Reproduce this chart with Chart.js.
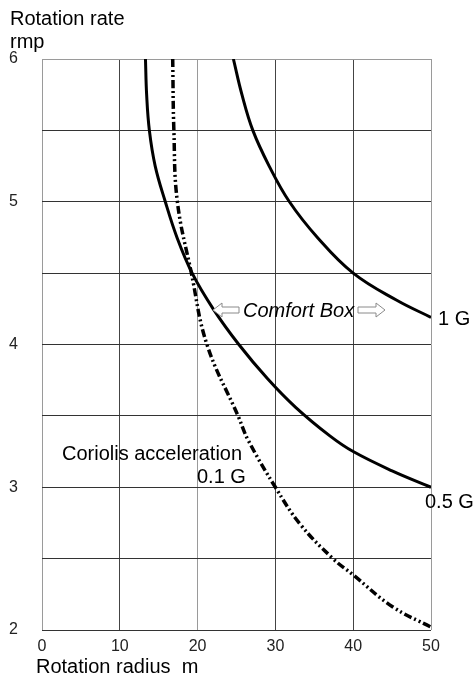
<!DOCTYPE html>
<html>
<head>
<meta charset="utf-8">
<script src="https://cdn.jsdelivr.net/npm/chart.js@4/dist/chart.umd.min.js"></script>
<style>
  html, body { margin: 0; padding: 0; background: #fff; }
  #wrap { width: 474px; height: 680px; }
</style>
</head>
<body>
<div id="wrap"><canvas id="chart" width="474" height="680"></canvas></div>
<script>
// valori
const radius1G = [24.6, 25.7, 27.1, 29.2, 31.8, 35.4, 40, 45.6, 50];
const rpm1G = [6.0, 5.75, 5.5, 5.25, 5.0, 4.75, 4.5, 4.31, 4.19];

const radiusHalfG = [13.3, 13.45, 13.8, 14.55, 15.85, 17.35, 19.3, 22.0, 25.3, 29, 32.6, 37, 40, 45, 50];
const rpmHalfG = [6.0, 5.75, 5.5, 5.25, 5.0, 4.75, 4.5, 4.25, 4.0, 3.76, 3.56, 3.36, 3.25, 3.115, 3.0];

const radiusCoriolis = [16.8, 16.95, 17.4, 19.2, 21.2, 25.2, 26.5, 30, 33.2, 37.4, 40, 45, 50, 51.5];
const rpmCoriolis = [6.0, 5.5, 5.0, 4.5, 4.0, 3.5, 3.33, 3.0, 2.74, 2.5, 2.386, 2.165, 2.02, 1.98];

const xTicks = [0, 10, 20, 30, 40, 50];
const yTicks = [2, 3, 4, 5, 6];

function toPoints(xs, ys) {
  return xs.map((x, i) => ({ x: x, y: ys[i] }));
}

const FONT = "'Liberation Sans', Arial, sans-serif";

// freccia vuota (contorno grigio)
function hollowArrow(ctx, xTail, xTip, y) {
  const dir = xTip > xTail ? 1 : -1;
  const headLen = 9;
  const shaft = 3;
  const head = 7;
  const xNeck = xTip - dir * headLen;
  ctx.beginPath();
  ctx.moveTo(xTail, y - shaft);
  ctx.lineTo(xNeck, y - shaft);
  ctx.lineTo(xNeck, y - head);
  ctx.lineTo(xTip, y);
  ctx.lineTo(xNeck, y + head);
  ctx.lineTo(xNeck, y + shaft);
  ctx.lineTo(xTail, y + shaft);
  ctx.closePath();
  ctx.fillStyle = "#fff";
  ctx.fill();
  ctx.strokeStyle = "#8a8a8a";
  ctx.lineWidth = 1;
  ctx.stroke();
}

const labelsPlugin = {
  id: "labels",
  afterDraw(chart) {
    const ctx = chart.ctx;
    ctx.save();
    ctx.fillStyle = "#000";
    ctx.textBaseline = "alphabetic";
    ctx.textAlign = "left";
    ctx.font = "20px " + FONT;
    ctx.fillText("Rotation rate", 10, 25);
    ctx.fillText("rmp", 10, 48);
    ctx.fillText("Rotation radius  m", 36, 673);
    ctx.fillText("Coriolis acceleration", 62, 460);
    ctx.fillText("0.1 G", 197, 483);
    ctx.fillText("1 G", 438, 325);
    ctx.fillText("0.5 G", 425, 508);

    ctx.font = "italic 20px " + FONT;
    ctx.fillText("Comfort Box", 243, 317);

    hollowArrow(ctx, 239, 213, 310);
    hollowArrow(ctx, 358, 385, 310);
    ctx.restore();
  },
};

const lightX = [0, 20, 50];

new Chart(document.getElementById("chart"), {
  type: "scatter",
  data: {
    datasets: [
      {
        label: "1 G",
        data: toPoints(radius1G, rpm1G),
        showLine: true,
        borderColor: "#000",
        borderWidth: 3,
        pointRadius: 0,
        tension: 0.4,
      },
      {
        label: "0.5 G",
        data: toPoints(radiusHalfG, rpmHalfG),
        showLine: true,
        borderColor: "#000",
        borderWidth: 3,
        pointRadius: 0,
        tension: 0.4,
      },
      {
        label: "Coriolis 0.1 G",
        data: toPoints(radiusCoriolis, rpmCoriolis),
        showLine: true,
        borderColor: "#000",
        borderWidth: 3.5,
        borderDash: [8, 3, 2, 3, 2, 3],
        pointRadius: 0,
        tension: 0.4,
        clip: 14,
      },
    ],
  },
  options: {
    responsive: false,
    animation: false,
    layout: { padding: { top: 59, right: 43, left: 0, bottom: 0 } },
    plugins: {
      legend: { display: false },
      tooltip: { enabled: false },
      title: { display: false },
    },
    scales: {
      x: {
        type: "linear",
        min: 0,
        max: 50,
        afterFit: (scale) => {
          scale.height = 50;
        },
        afterBuildTicks: (scale) => {
          scale.ticks = xTicks.map((v) => ({ value: v }));
        },
        ticks: {
          padding: 7,
          color: "#222",
          font: { family: FONT, size: 16 },
        },
        grid: {
          drawTicks: false,
          lineWidth: 1,
          color: (c) => (lightX.includes(c.tick && c.tick.value) ? "#9a9a9a" : "#444"),
        },
        border: { display: false },
      },
      y: {
        type: "linear",
        min: 2,
        max: 6,
        afterFit: (scale) => {
          scale.width = 42;
        },
        ticks: {
          stepSize: 0.5,
          padding: 24,
          color: "#222",
          font: { family: FONT, size: 16 },
          callback: (v) => (yTicks.includes(v) ? String(v) : ""),
        },
        grid: {
          drawTicks: false,
          lineWidth: 1,
          color: (c) => (c.tick && c.tick.value === 6 ? "#9a9a9a" : "#333"),
        },
        border: { display: false },
      },
    },
  },
  plugins: [labelsPlugin],
});
</script>
</body>
</html>
